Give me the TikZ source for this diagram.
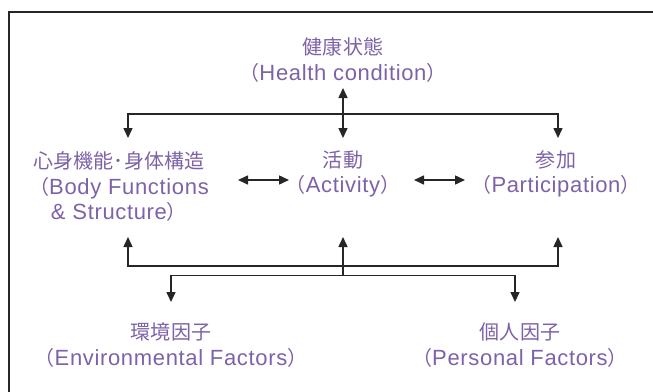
\documentclass[tikz,border=0pt]{standalone}
\usepackage{fontspec}
\setmainfont{Liberation Sans}[LetterSpace=3]
\newfontfamily\cjk{Noto Sans CJK JP}[Scale=0.91]
\usetikzlibrary{arrows.meta}
\definecolor{icfpurple}{RGB}{125,98,168}
\tikzset{
  lbl/.style={text=icfpurple, align=center, inner sep=0pt, font=\fontsize{22}{25.5}\selectfont},
  conn/.style={line width=1.5pt, draw=black!85},
  tipped/.style={conn, -{Triangle[length=10pt,width=9pt]}},
  both/.style={conn, {Triangle[length=10pt,width=9pt]}-{Triangle[length=10pt,width=9pt]}},
  frame/.style={line width=2pt, draw=black!85}
}
\newcommand{\lp}{{\cjk （}}
\newcommand{\rp}{{\cjk ）}}
\begin{document}
\begin{tikzpicture}[x=1pt,y=-1pt]
\useasboundingbox (0,0) rectangle (653,391);
\draw[frame] (9.2,392) -- (9.2,11.5) -- (654,11.5);

\node[lbl] (health) at (343,60) {{\cjk 健康状態}\\\lp Health condition\rp};
\node[lbl] (body) at (119,187) {{\cjk 心身機能･身体構造}\\\lp Body Functions\\\& Structure\rp};
\node[lbl] (act) at (343,174) {{\cjk 活動}\\\lp Activity\rp};
\node[lbl] (part) at (556,174) {{\cjk 参加}\\\lp Participation\rp};
\node[lbl] (env) at (171,345) {{\cjk 環境因子}\\\lp Environmental Factors\rp};
\node[lbl] (pers) at (520,345) {{\cjk 個人因子}\\\lp Personal Factors\rp};

% top distribution
\coordinate (jT) at (343,114);
\coordinate (hTip) at (343,88);
\coordinate (aTop) at (343,138);
\coordinate (bTop) at (128,138);
\coordinate (pTop) at (558,138);
\draw[tipped] (jT) -- (hTip);
\draw[tipped] (jT) -- (aTop);
\draw[tipped] (jT) -| (bTop);
\draw[tipped] (jT) -| (pTop);

% horizontal double arrows
\coordinate (ba1) at (238,180);
\coordinate (ba2) at (289,180);
\coordinate (ap1) at (414,180);
\coordinate (ap2) at (465,180);
\draw[both] (ba1) -- (ba2);
\draw[both] (ap1) -- (ap2);

% bottom distribution
\coordinate (jB) at (343,266);
\coordinate (aBot) at (343,237);
\coordinate (bBot) at (128,237);
\coordinate (pBot) at (558,237);
\coordinate (jE) at (343,275.5);
\coordinate (eTip) at (171,302);
\coordinate (fTip) at (515,302);
\draw[tipped] (jB) -- (aBot);
\draw[tipped] (jB) -| (bBot);
\draw[tipped] (jB) -| (pBot);
\draw[conn] (jB) -- (jE);
\draw[tipped] (jE) -| (eTip);
\draw[tipped] (jE) -| (fTip);
\end{tikzpicture}
\end{document}
